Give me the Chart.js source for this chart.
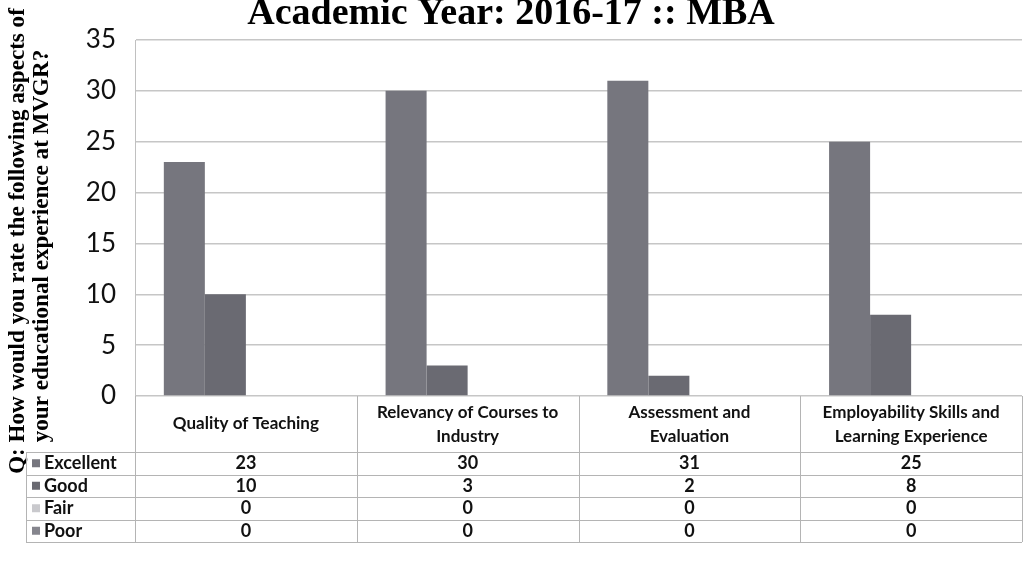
<!DOCTYPE html>
<html>
<head>
<meta charset="utf-8">
<script src="https://cdn.jsdelivr.net/npm/chart.js@4.4.0/dist/chart.umd.min.js"></script>
<style>
  html, body { margin: 0; padding: 0; background: #fff; }
  #wrap { width: 1026px; height: 578px; position: relative; }
</style>
</head>
<body>
<div id="wrap"><canvas id="myChart"></canvas></div>
<script>
// data
const categories = [
    ['Quality of Teaching'],
    ['Relevancy of Courses to', 'Industry'],
    ['Assessment and', 'Evaluation'],
    ['Employability Skills and', 'Learning Experience']
];
const seriesNames = ['Excellent', 'Good', 'Fair', 'Poor'];
const excellent = [23, 30, 31, 25];
const good = [10, 3, 2, 8];
const fair = [0, 0, 0, 0];
const poor = [0, 0, 0, 0];
const yTicks = [0, 5, 10, 15, 20, 25, 30, 35];

const chartTitle = 'Academic Year: 2016-17 :: MBA';
const yTitle = ['Q: How would you rate the following aspects of', 'your educational experience at MVGR?'];

const colors = ['#76767e', '#6a6a72', '#c9c9cd', '#85858d'];
const gridColor = '#c6c6c6';
const headFont = 'bold 17px Lato, "Open Sans", sans-serif';
const rowFont = 'bold 18px Lato, "Open Sans", sans-serif';

// draws title, rotated axis title and the data table under the plot
const tablePlugin = {
    id: 'tablePlugin',
    afterDraw(chart) {
        const ctx = chart.ctx;
        const area = chart.chartArea;
        const xs = chart.scales.x;
        const n = chart.data.labels.length;
        const colW = (area.right - area.left) / n;

        ctx.save();

        // main title (cut off at the top in the scan)
        ctx.fillStyle = '#000';
        ctx.font = 'bold 38px "Liberation Serif", "Times New Roman", serif';
        ctx.textAlign = 'center';
        ctx.textBaseline = 'alphabetic';
        ctx.fillText(chartTitle, 511, 24);

        // rotated y title
        ctx.save();
        ctx.rotate(-Math.PI / 2);
        let fs = 20;
        ctx.font = 'bold ' + fs + 'px "Liberation Serif", serif';
        const w = ctx.measureText(yTitle[0]).width;
        fs = fs * 466 / w;
        ctx.font = 'bold ' + fs.toFixed(1) + 'px "Liberation Serif", serif';
        ctx.textAlign = 'center';
        ctx.textBaseline = 'middle';
        ctx.fillText(yTitle[0], -241, 18);
        ctx.fillText(yTitle[1], -246, 42);
        ctx.restore();

        // table geometry
        const headTop = area.bottom;
        const headBottom = 452;
        const rowH = 22.5;
        const tableLeft = 26;
        const tableRight = area.right;
        const rows = chart.data.datasets.length;
        const tableBottom = headBottom + rows * rowH;

        ctx.strokeStyle = '#b4b4b4';
        ctx.lineWidth = 1;
        for (let i = 0; i <= n; i++) {
            const x = Math.round(area.left + i * colW) + 0.5;
            ctx.beginPath();
            ctx.moveTo(x, headTop);
            ctx.lineTo(x, tableBottom);
            ctx.stroke();
        }
        ctx.beginPath();
        ctx.moveTo(tableLeft + 0.5, headBottom);
        ctx.lineTo(tableLeft + 0.5, tableBottom);
        ctx.stroke();
        for (let r = 0; r <= rows; r++) {
            const y = Math.round(headBottom + r * rowH) + 0.5;
            ctx.beginPath();
            ctx.moveTo(tableLeft, y);
            ctx.lineTo(tableRight, y);
            ctx.stroke();
        }

        // category headers
        ctx.fillStyle = '#111';
        ctx.font = headFont;
        ctx.textAlign = 'center';
        ctx.textBaseline = 'middle';
        chart.data.labels.forEach((lab, i) => {
            const cx = xs.getPixelForValue(i);
            if (lab.length === 1) {
                ctx.fillText(lab[0], cx, 424);
            } else {
                ctx.fillText(lab[0], cx, 413);
                ctx.fillText(lab[1], cx, 437);
            }
        });

        // rows: legend key, series name, values
        ctx.font = rowFont;
        chart.data.datasets.forEach((ds, r) => {
            const cy = headBottom + r * rowH + rowH / 2;
            ctx.fillStyle = ds.backgroundColor;
            ctx.fillRect(32, cy - 4, 8, 8);
            ctx.fillStyle = '#111';
            ctx.textAlign = 'left';
            ctx.fillText(ds.label, 44, cy);
            ctx.textAlign = 'center';
            ds.data.forEach((v, i) => {
                ctx.fillText(String(v), xs.getPixelForValue(i), cy);
            });
        });

        ctx.restore();
    }
};

const ctx = document.getElementById('myChart').getContext('2d');
const myChart = new Chart(ctx, {
    type: 'bar',
    data: {
        labels: categories,
        datasets: [excellent, good, fair, poor].map((d, i) => ({
            label: seriesNames[i],
            data: d,
            backgroundColor: colors[i],
            borderWidth: 0,
            barPercentage: 1,
            categoryPercentage: 0.74
        }))
    },
    options: {
        responsive: true,
        maintainAspectRatio: false,
        animation: false,
        layout: {
            padding: { top: 40, bottom: 182, left: 0, right: 4 }
        },
        plugins: {
            legend: { display: false },
            tooltip: { enabled: false },
            title: { display: false }
        },
        scales: {
            x: {
                display: false,
                offset: true
            },
            y: {
                min: 0,
                max: 35,
                afterFit(scale) { scale.width = 135; },
                afterBuildTicks(scale) { scale.ticks = yTicks.map(v => ({ value: v })); },
                grid: {
                    color: gridColor,
                    lineWidth: 1.5,
                    drawTicks: false
                },
                border: { display: true, color: '#c0c0c0', width: 1 },
                ticks: {
                    padding: 19,
                    color: '#111',
                    font: { family: 'Lato, "Open Sans", sans-serif', size: 26 }
                }
            }
        }
    },
    plugins: [tablePlugin]
});
</script>
</body>
</html>
